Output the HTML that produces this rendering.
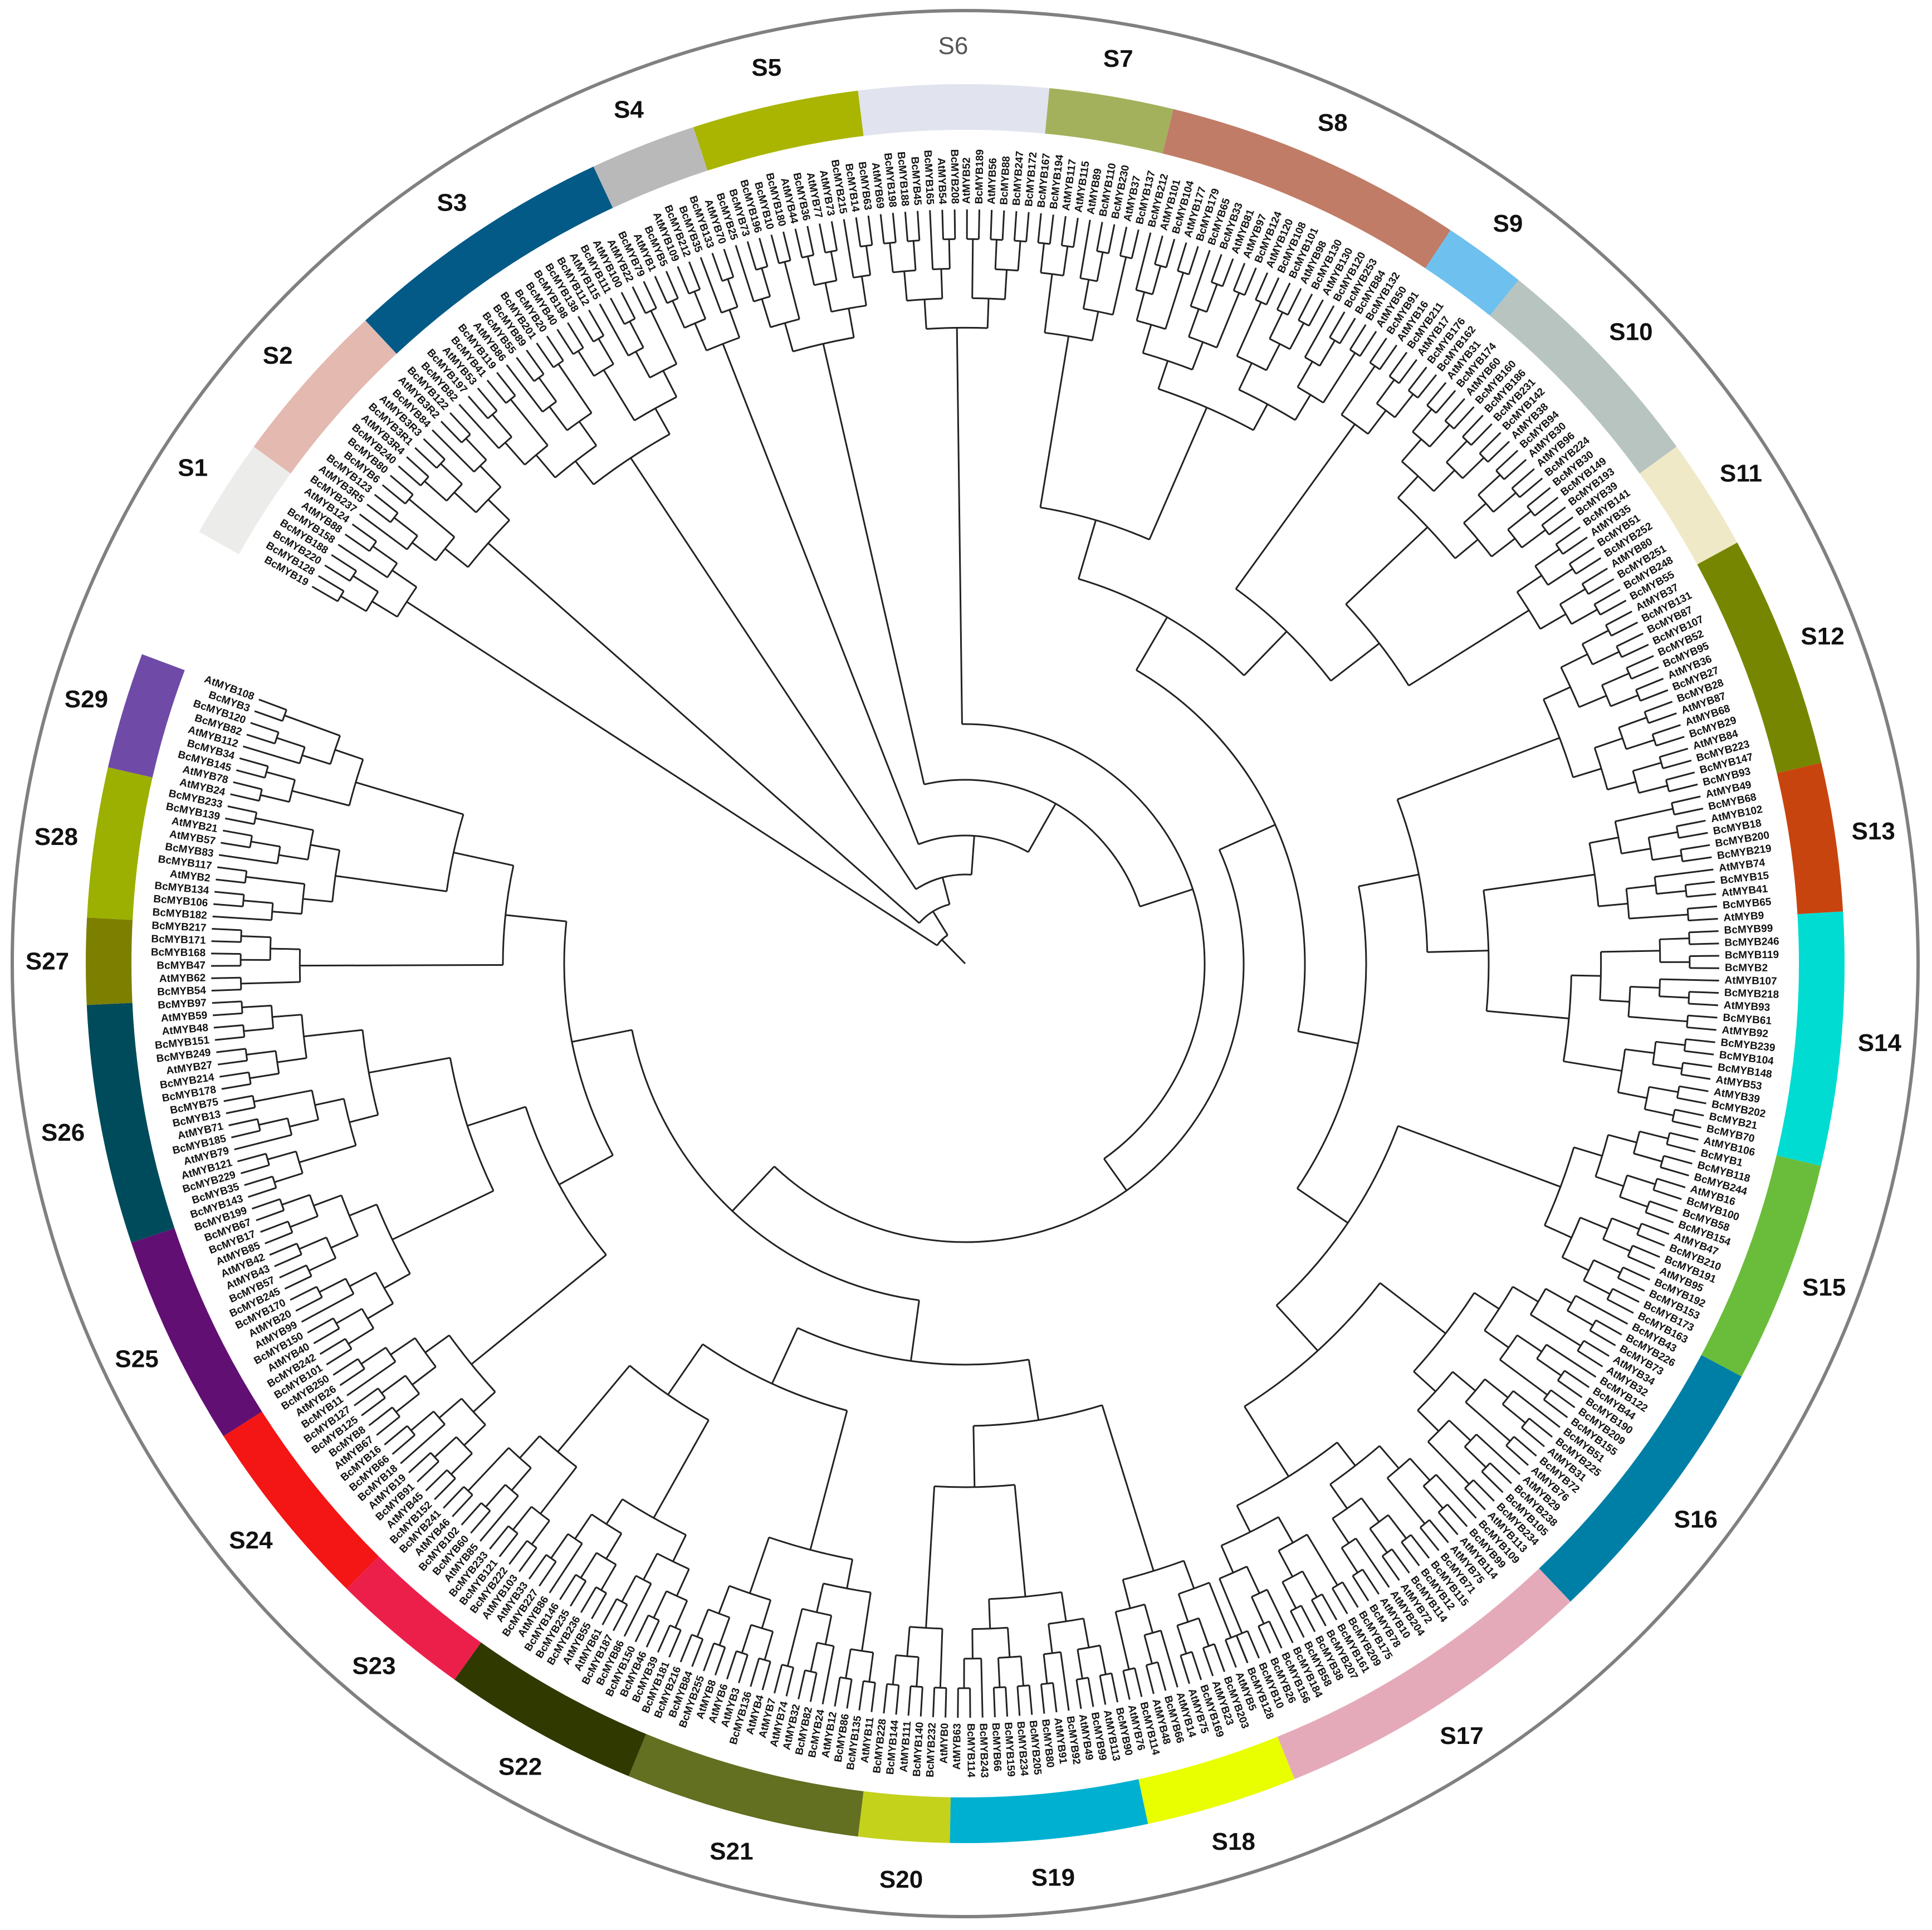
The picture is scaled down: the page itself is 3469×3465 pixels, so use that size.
<!DOCTYPE html>
<html><head><meta charset="utf-8"><title>MYB phylogenetic tree</title>
<style>html,body{margin:0;padding:0;background:#fff}svg{display:block}</style></head>
<body>
<svg id="chart" xmlns="http://www.w3.org/2000/svg" width="3469" height="3465" viewBox="0 0 3469 3465"></svg>
<script>
const cladeNames=["S1","S2","S3","S4","S5","S6","S7","S8","S9","S10","S11","S12","S13","S14","S15","S16","S17","S18","S19","S20","S21","S22","S23","S24","S25","S26","S27","S28","S29"];
const cladeStart=[299.4,306,317,335,342,353,365.5,373.7,393.5,399,414,421.4,436.8,446.6,463.3,478,496.5,518,528,541,547,562.5,575.5,584.7,597.5,611.5,627.3,633,642.9];
const cladeEnd=[306,317,335,342,353,365.5,373.7,393.5,399,414,421.4,436.8,446.6,463.3,478,496.5,518,528,541,547,562.5,575.5,584.7,597.5,611.5,627.3,633,642.9,650.6];
const cladeColors=["#ececea","#e3b9b0","#035a87","#b9b9b9","#a9b500","#e1e3ef","#a3b15c","#c07c66","#6ec0ef","#b7c4bf","#efe9c8","#778600","#c8440f","#00dcd2","#6abd3a","#007fa6","#e5aab9","#e9ff00","#00b0d0","#c4d21c","#636f21","#2f3900","#ec1f4b","#f41515","#610f72","#004b5b","#7c7f00","#9bb000","#6f4aa7"];
const leafNames=["BcMYB19","BcMYB128","BcMYB220","BcMYB188","BcMYB158","AtMYB88","AtMYB124","BcMYB237","AtMYB3R5","BcMYB123","BcMYB6","BcMYB80","BcMYB240","AtMYB3R4","BcMYB3R1","AtMYB3R3","BcMYB84","AtMYB3R2","BcMYB122","BcMYB82","BcMYB197","AtMYB53","BcMYB41","BcMYB119","AtMYB86","BcMYB55","BcMYB89","BcMYB201","BcMYB20","BcMYB40","BcMYB198","BcMYB138","BcMYB112","AtMYB115","BcMYB111","AtMYB100","AtMYB22","BcMYB79","AtMYB1","BcMYB5","AtMYB109","BcMYB212","BcMYB35","BcMYB133","AtMYB70","BcMYB25","BcMYB73","BcMYB196","BcMYB10","BcMYB180","AtMYB44","BcMYB36","AtMYB77","AtMYB73","BcMYB215","BcMYB14","BcMYB63","AtMYB69","BcMYB198","BcMYB188","BcMYB45","BcMYB165","AtMYB54","BcMYB208","AtMYB52","BcMYB189","AtMYB56","BcMYB88","BcMYB247","BcMYB172","BcMYB167","BcMYB194","AtMYB117","AtMYB115","AtMYB89","BcMYB110","BcMYB230","AtMYB37","BcMYB137","BcMYB212","AtMYB101","BcMYB104","AtMYB177","BcMYB179","BcMYB65","BcMYB33","AtMYB81","AtMYB97","BcMYB124","AtMYB120","BcMYB108","BcMYB101","AtMYB98","BcMYB130","AtMYB130","BcMYB120","BcMYB253","BcMYB84","BcMYB132","AtMYB50","BcMYB91","AtMYB16","BcMYB211","AtMYB17","BcMYB176","BcMYB162","AtMYB31","BcMYB174","AtMYB60","BcMYB160","BcMYB186","BcMYB231","BcMYB142","AtMYB38","BcMYB94","AtMYB30","AtMYB96","BcMYB224","BcMYB30","BcMYB149","BcMYB193","BcMYB39","BcMYB141","AtMYB35","BcMYB51","BcMYB252","AtMYB80","BcMYB251","BcMYB248","BcMYB55","AtMYB37","BcMYB131","BcMYB87","BcMYB107","BcMYB52","BcMYB95","AtMYB36","BcMYB27","BcMYB28","AtMYB87","AtMYB68","BcMYB29","AtMYB84","BcMYB223","BcMYB147","BcMYB93","AtMYB49","BcMYB68","AtMYB102","BcMYB18","BcMYB200","BcMYB219","AtMYB74","BcMYB15","AtMYB41","BcMYB65","AtMYB9","BcMYB99","BcMYB246","BcMYB119","BcMYB2","AtMYB107","BcMYB218","AtMYB93","BcMYB61","AtMYB92","BcMYB239","BcMYB104","BcMYB148","AtMYB53","AtMYB39","BcMYB202","BcMYB21","BcMYB70","AtMYB106","BcMYB1","BcMYB118","BcMYB244","AtMYB16","BcMYB100","BcMYB58","BcMYB154","AtMYB47","BcMYB210","BcMYB191","AtMYB95","BcMYB192","BcMYB153","BcMYB173","BcMYB163","BcMYB43","BcMYB226","BcMYB73","AtMYB34","AtMYB32","BcMYB122","BcMYB44","BcMYB190","BcMYB209","BcMYB155","BcMYB51","BcMYB225","AtMYB31","BcMYB72","AtMYB76","AtMYB29","BcMYB238","BcMYB105","BcMYB234","AtMYB113","BcMYB109","BcMYB99","AtMYB114","AtMYB75","BcMYB71","BcMYB115","BcMYB12","BcMYB114","AtMYB72","AtMYB204","AtMYB10","BcMYB78","BcMYB175","BcMYB209","BcMYB161","BcMYB207","BcMYB38","BcMYB58","BcMYB184","BcMYB156","BcMYB26","BcMYB10","BcMYB128","AtMYB5","BcMYB203","AtMYB23","BcMYB169","AtMYB75","AtMYB14","BcMYB66","AtMYB48","BcMYB114","AtMYB76","BcMYB90","AtMYB113","BcMYB99","AtMYB49","BcMYB92","AtMYB91","BcMYB80","BcMYB205","BcMYB234","BcMYB159","BcMYB66","BcMYB243","BcMYB114","AtMYB63","AtMYB0","BcMYB232","BcMYB140","AtMYB111","BcMYB144","BcMYB228","AtMYB11","BcMYB135","BcMYB86","AtMYB12","BcMYB24","BcMYB82","AtMYB32","AtMYB74","AtMYB7","AtMYB4","BcMYB136","AtMYB3","AtMYB6","AtMYB8","BcMYB255","BcMYB84","BcMYB216","BcMYB181","BcMYB39","BcMYB46","BcMYB150","BcMYB86","BcMYB187","AtMYB61","AtMYB55","BcMYB236","BcMYB235","BcMYB146","AtMYB86","BcMYB227","AtMYB33","AtMYB103","BcMYB222","BcMYB121","BcMYB233","AtMYB85","BcMYB60","BcMYB102","AtMYB46","BcMYB241","BcMYB152","AtMYB45","BcMYB91","AtMYB19","BcMYB18","BcMYB66","BcMYB16","AtMYB67","BcMYB8","BcMYB125","BcMYB127","BcMYB11","AtMYB26","BcMYB250","BcMYB101","BcMYB242","AtMYB40","BcMYB150","AtMYB99","AtMYB20","BcMYB170","BcMYB245","BcMYB57","AtMYB43","AtMYB42","AtMYB85","BcMYB17","BcMYB67","BcMYB199","BcMYB143","BcMYB35","BcMYB229","AtMYB121","AtMYB79","BcMYB185","AtMYB71","BcMYB13","BcMYB75","BcMYB178","BcMYB214","AtMYB27","BcMYB249","BcMYB151","AtMYB48","AtMYB59","BcMYB97","BcMYB54","AtMYB62","BcMYB47","BcMYB168","BcMYB171","BcMYB217","BcMYB182","BcMYB106","BcMYB134","AtMYB2","BcMYB117","BcMYB83","AtMYB57","AtMYB21","BcMYB139","BcMYB233","AtMYB24","AtMYB78","BcMYB145","BcMYB34","AtMYB112","BcMYB82","BcMYB120","BcMYB3","AtMYB108"];

const NS="http://www.w3.org/2000/svg";
const svg=document.getElementById('chart');
const CX=1733,CY=1730,TIP=1354,S=2.212;
function px(r,a){const t=a*Math.PI/180;return [CX+r*Math.sin(t),CY-r*Math.cos(t)];}
function mk(tag,attrs,parent){const e=document.createElementNS(NS,tag);for(const k in attrs)e.setAttribute(k,attrs[k]);(parent||svg).appendChild(e);return e;}
function arcPath(r,a0,a1){const p0=px(r,a0),p1=px(r,a1);const large=(a1-a0)>180?1:0;return `M${p0[0]} ${p0[1]} A${r} ${r} 0 ${large} 1 ${p1[0]} ${p1[1]}`;}

const oc=mk('circle',{cx:CX,cy:CY,r:1711,fill:'none',stroke:'#808080','stroke-width':6});



const R0=1497,R1=1579;
for(let i=0;i<cladeNames.length;i++){
  const a0=cladeStart[i],a1=cladeEnd[i];
  const o0=px(R1,a0),o1=px(R1,a1),i1=px(R0,a1),i0=px(R0,a0);
  const band=mk('path',{d:`M${o0[0]} ${o0[1]} A${R1} ${R1} 0 0 1 ${o1[0]} ${o1[1]} L${i1[0]} ${i1[1]} A${R0} ${R0} 0 0 0 ${i0[0]} ${i0[1]} Z`,fill:cladeColors[i]});
  
  
  const lp=px(1648,(a0+a1)/2);
  const t=mk('text',{x:lp[0],y:lp[1]+15,'text-anchor':'middle','font-family':'Liberation Sans, Arial, sans-serif','font-size':44,'font-weight':cladeNames[i]==='S6'?'normal':'bold',fill:cladeNames[i]==='S6'?'#555':'#111'});
  t.textContent=cladeNames[i];
  
  
}

const N=leafNames.length,A0=300,A1=650.5;
const leafAng=leafNames.map((_,i)=>A0+(A1-A0)*i/(N-1));
const lg=mk('g',{'font-family':'Liberation Sans, Arial, sans-serif','font-size':19,'font-weight':'bold',fill:'#111'});


leafNames.forEach((n,i)=>{
  const a=leafAng[i],na=((a%360)+360)%360;const p=px(1364,a);
  const right=na<180;
  const rot=right?na-90:na+90;
  const t=mk('text',{x:p[0],y:p[1],transform:`rotate(${rot} ${p[0]} ${p[1]})`,'text-anchor':right?'start':'end','dominant-baseline':'middle'},lg);
  t.textContent=n;
  
  
});

const tg=mk('g',{fill:'none',stroke:'#222','stroke-width':3});


function line(r0,r1,a){const p=px(r0,a),q=px(r1,a);const l=mk('path',{d:`M${p[0]} ${p[1]} L${q[0]} ${q[1]}`},tg);}
function arc(r,a0,a1){const l=mk('path',{d:arcPath(r,a0,a1)},tg);}
function build(idx){
  if(idx.length===1)return {a:leafAng[idx[0]],r:TIP,h:0};
  const m=Math.ceil(idx.length/2)+((idx.length%3===0)?-1:0);
  const mm=Math.max(1,Math.min(idx.length-1,m));
  const L=build(idx.slice(0,mm)),Rr=build(idx.slice(mm));
  const h=Math.max(L.h,Rr.h)+1;
  const r=TIP-24*S*h;
  line(L.r,r,L.a);line(Rr.r,r,Rr.a);arc(r,L.a,Rr.a);
  return {a:(L.a+Rr.a)/2,r:r,h:h};
}
const cladeRoots=[];
for(let c=0;c<cladeNames.length;c++){
  const idx=[];leafAng.forEach((a,i)=>{if(a>=cladeStart[c]&&a<cladeEnd[c]+0.01)idx.push(i);});
  if(idx.length)cladeRoots.push(build(idx));
}
function node(L,Rr,r){r=Math.min(r,L.r-20,Rr.r-20);line(L.r,r,L.a);line(Rr.r,r,Rr.a);arc(r,L.a,Rr.a);return {a:(L.a+Rr.a)/2,r:r};}
function join(list,r,step){
  if(list.length===1)return list[0];
  const m=Math.floor(list.length/2);
  const L=join(list.slice(0,m),r+step,step),Rr=join(list.slice(m),r+step,step);
  return node(L,Rr,r);
}
// inner ring: S7..S29 joined, then caterpillar toward root with S6..S1
let core=join(cladeRoots.slice(6),500,110);
const capR=[430,330,230,160,110,60];
for(let k=5;k>=0;k--){core=node(cladeRoots[k],core,capR[5-k]);}
line(core.r,0,core.a);
</script>
</body></html>
